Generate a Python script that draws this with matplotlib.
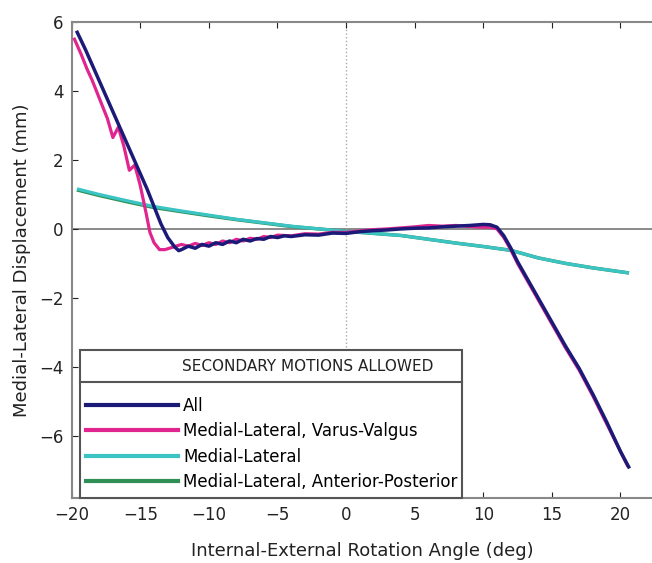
import matplotlib
matplotlib.use('Agg')
import numpy as np
from matplotlib import pyplot as plt
from matplotlib.lines import Line2D

plt.rcParams['font.family'] = ['DejaVu Sans']

# All secondary motions
all_x = [-19.6, -19, -18.5, -18, -17.5, -17, -16.5, -16, -15.5, -15, -14.5, -14, -13.5, -13, -12.5, -12.2,
         -12, -11.5, -11, -10.5, -10, -9.5, -9, -8.5, -8, -7.5, -7, -6.5, -6, -5.5, -5, -4.5, -4, -3, -2, -1,
         0, 1, 2, 3, 4, 5, 6, 7, 8, 9, 10, 10.5, 11, 11.5, 12, 12.5, 13, 13.5, 14, 15, 16, 17, 18, 19, 20, 20.6]
all_y = [5.7, 5.2, 4.75, 4.3, 3.85, 3.4, 2.95, 2.5, 2.05, 1.6, 1.15, 0.65, 0.15, -0.25, -0.52, -0.63,
         -0.6, -0.5, -0.56, -0.45, -0.5, -0.4, -0.45, -0.35, -0.4, -0.3, -0.35, -0.28, -0.3, -0.22, -0.25, -0.2, -0.22, -0.17, -0.18, -0.12,
         -0.13, -0.08, -0.05, -0.03, 0.0, 0.02, 0.03, 0.06, 0.08, 0.1, 0.13, 0.12, 0.05, -0.2, -0.55, -0.95, -1.3, -1.65, -2.0, -2.7, -3.4, -4.05, -4.8, -5.6, -6.45, -6.9]

# Medial-Lateral, Varus-Valgus
vv_x = [-19.8, -19.3, -18.9, -18.5, -18.1, -17.7, -17.4, -17.0, -16.6, -16.2, -15.8, -15.4, -15.0,
        -14.6, -14.3, -14.0, -13.6, -13.2, -12.8, -12.4, -12.0, -11.5, -11, -10.5, -10, -9.5, -9, -8.5, -8, -7.5, -7, -6.5, -6, -5.5,
        -5, -4, -3, -2, -1, 0, 1, 2, 3, 4, 5, 6, 7, 8, 9, 10, 10.5, 11, 11.5, 12, 12.5, 13, 14, 15, 16, 17, 18, 19, 20, 20.5]
vv_y = [5.5, 5.05, 4.65, 4.3, 3.9, 3.5, 3.2, 2.65, 2.95, 2.4, 1.7, 1.85, 1.25,
        0.5, -0.1, -0.4, -0.6, -0.6, -0.55, -0.5, -0.45, -0.5, -0.42, -0.48, -0.4, -0.45, -0.35, -0.4, -0.3, -0.35, -0.27, -0.3, -0.22, -0.25,
        -0.18, -0.2, -0.14, -0.15, -0.1, -0.1, -0.06, -0.02, 0.0, 0.03, 0.06, 0.1, 0.08, 0.1, 0.07, 0.05, 0.05, 0.0, -0.25, -0.6, -1.0, -1.35, -2.05, -2.75, -3.45, -4.1, -4.85, -5.65, -6.45, -6.85]

# Medial-Lateral only
ml_x = [-19.5, -18, -16, -14, -12, -10, -8, -6, -4, -2, 0, 2, 4, 6, 8, 10, 12, 14, 16, 18, 20.5]
ml_y = [1.15, 1.0, 0.82, 0.65, 0.52, 0.4, 0.28, 0.18, 0.08, 0.0, -0.07, -0.13, -0.19, -0.3, -0.41, -0.51, -0.62, -0.84, -1.0, -1.13, -1.27]

# Medial-Lateral, Anterior-Posterior
ap_x = [-19.5, -18, -16, -14, -12, -10, -8, -6, -4, -2, 0, 2, 4, 6, 8, 10, 12, 14, 16, 18, 20.5]
ap_y = [1.12, 0.97, 0.79, 0.62, 0.5, 0.38, 0.27, 0.17, 0.07, 0.0, -0.07, -0.13, -0.19, -0.3, -0.41, -0.51, -0.62, -0.84, -1.0, -1.13, -1.27]

labels = ['All', 'Medial-Lateral, Varus-Valgus', 'Medial-Lateral', 'Medial-Lateral, Anterior-Posterior']
colors = ['#1c1a78', '#e0258f', '#3cc4c4', '#2f8f55']
legend_title = 'SECONDARY MOTIONS ALLOWED'

fig = plt.figure(figsize=(6.52, 5.63), dpi=100)
ax = fig.add_axes((0.110, 0.1155, 0.89, 0.8455))

ax.axhline(0, color='#777777', lw=1.2, zorder=1)
ax.axvline(0, color='#aaaaaa', lw=1, ls=':', zorder=1)

ax.plot(ap_x, ap_y, color=colors[3], lw=2.5, zorder=2)
ax.plot(ml_x, ml_y, color=colors[2], lw=2.3, zorder=3)
ax.plot(vv_x, vv_y, color=colors[1], lw=2.3, zorder=4)
ax.plot(all_x, all_y, color=colors[0], lw=2.5, zorder=5)

ax.set_xlim(-20, 22.3)
ax.set_ylim(-7.8, 6)
ax.set_xticks([-20, -15, -10, -5, 0, 5, 10, 15, 20])
ax.set_yticks([-6, -4, -2, 0, 2, 4, 6])
ax.tick_params(direction='in', top=True, labelsize=12, colors='#222222', length=4, pad=6)
for s in ['top', 'bottom', 'left']:
    ax.spines[s].set_color('#888888')
    ax.spines[s].set_linewidth(1.5)
ax.spines['right'].set_visible(False)

ax.set_xlabel('Internal-External Rotation Angle (deg)', fontsize=13, color='#222222', labelpad=13)
ax.set_ylabel('Medial-Lateral Displacement (mm)', fontsize=13, color='#222222', labelpad=6)

handles = [Line2D([], [], color=c, lw=3) for c in colors]
# title slot is a placeholder; the real title is drawn below so it can sit off-centre
leg = ax.legend(handles, labels, title='X\nX', loc='lower left',
                bbox_to_anchor=(0.0138, 0.0, 0.659, 0.3), mode='expand', fontsize=12,
                title_fontsize=10.5, fancybox=False, framealpha=1, edgecolor='#555555',
                handlelength=5.5, handletextpad=0.3, labelspacing=0.45, borderaxespad=0.0)
leg.get_frame().set_linewidth(1.5)
leg.get_title().set_alpha(0)

fig.canvas.draw()
fb = leg.get_frame().get_window_extent()
inv = fig.transFigure.inverted()
ysep = fb.y1 - 32
p0 = inv.transform((fb.x0, ysep))
p1 = inv.transform((fb.x1, ysep))
fig.add_artist(Line2D([p0[0], p1[0]], [p0[1], p1[1]], color='#555555', lw=1.5, zorder=10))
tc = inv.transform((308, fb.y1 - 16))
fig.text(tc[0], tc[1], legend_title, ha='center', va='center', fontsize=11, color='#222222', zorder=11)

fig.savefig('out.png', dpi=100)
